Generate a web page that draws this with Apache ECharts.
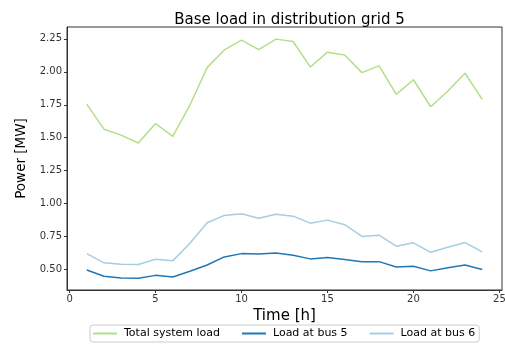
<!DOCTYPE html>
<html><head><meta charset="utf-8">
<script src="https://cdn.jsdelivr.net/npm/echarts@6/dist/echarts.min.js"></script>
<style>html,body{margin:0;padding:0;background:#fff}#c{width:505px;height:346px}</style>
</head><body><div id="c"></div>
<script>
var hours = [1,2,3,4,5,6,7,8,9,10,11,12,13,14,15,16,17,18,19,20,21,22,23,24];
var totalLoad = [1.755,1.565,1.52,1.46,1.608,1.51,1.748,2.032,2.166,2.24,2.169,2.248,2.23,2.037,2.149,2.128,1.994,2.045,1.829,1.94,1.735,1.854,1.989,1.791];
var bus5Load = [0.497,0.449,0.436,0.434,0.456,0.444,0.487,0.535,0.596,0.621,0.618,0.626,0.608,0.581,0.591,0.576,0.56,0.56,0.52,0.525,0.49,0.513,0.535,0.5];
var bus6Load = [0.621,0.551,0.54,0.538,0.578,0.566,0.70,0.855,0.911,0.923,0.89,0.92,0.905,0.852,0.875,0.84,0.751,0.761,0.677,0.703,0.631,0.669,0.705,0.634];
var xTicks = [0,5,10,15,20,25];
var yTicks = [0.5,0.75,1.0,1.25,1.5,1.75,2.0,2.25];
var seriesNames = ['Total system load','Load at bus 5','Load at bus 6'];
var colors = ['#b2df8a','#1f78b4','#a6cee3'];

function pairs(v){ return hours.map(function(h,i){ return [h, v[i]]; }); }
var font = 'DejaVu Sans';
var chart = echarts.init(document.getElementById('c'), null, {renderer:'canvas'});
chart.setOption({
  animation:false,
  textStyle:{fontFamily:font},
  title:{text:'Base load in distribution grid 5', left:284.5, textAlign:'center', top:8,
    textStyle:{fontFamily:font, fontSize:15, fontWeight:'normal', color:'#000'}},
  grid:{left:67, right:3, top:27, bottom:56, show:true, borderColor:'#333', borderWidth:1, backgroundColor:'transparent', outerBoundsMode:'none', containLabel:false},
  legend:{data:seriesNames, left:90, top:325, width:390, height:14, itemWidth:24, itemHeight:2, itemGap:22,
    icon:'rect', borderColor:'#ccc', borderWidth:1, borderRadius:3, padding:[3,4,3,3],
    textStyle:{fontFamily:font, fontSize:11, color:'#000', padding:[0,0,0,2]}},
  xAxis:{type:'value', min:-0.15, max:25.15, name:'Time [h]', nameLocation:'middle', nameGap:17,
    nameTextStyle:{fontFamily:font, fontSize:15, color:'#000'},
    splitLine:{show:false},
    axisLine:{show:true, onZero:false, lineStyle:{color:'#333'}},
    axisTick:{show:true, customValues:xTicks, length:3, lineStyle:{color:'#333'}},
    axisLabel:{customValues:xTicks, fontSize:10, color:'#333', margin:4, fontFamily:font}},
  yAxis:{type:'value', min:0.345, max:2.34, name:'Power [MW]', nameLocation:'middle', nameGap:38,
    nameTextStyle:{fontFamily:font, fontSize:13.5, color:'#000'},
    splitLine:{show:false},
    axisLine:{show:true, onZero:false, lineStyle:{color:'#333'}},
    axisTick:{show:true, customValues:yTicks, length:3, lineStyle:{color:'#333'}},
    axisLabel:{customValues:yTicks, fontSize:10, color:'#333', margin:5, fontFamily:font,
      formatter:function(v){ return v.toFixed(2); }}},
  series:[
    {name:seriesNames[0], type:'line', data:pairs(totalLoad), showSymbol:false, symbol:'none', lineStyle:{width:1.5, color:colors[0]}, itemStyle:{color:colors[0]}},
    {name:seriesNames[1], type:'line', data:pairs(bus5Load), showSymbol:false, symbol:'none', lineStyle:{width:1.5, color:colors[1]}, itemStyle:{color:colors[1]}},
    {name:seriesNames[2], type:'line', data:pairs(bus6Load), showSymbol:false, symbol:'none', lineStyle:{width:1.5, color:colors[2]}, itemStyle:{color:colors[2]}}
  ]
});
</script></body></html>
